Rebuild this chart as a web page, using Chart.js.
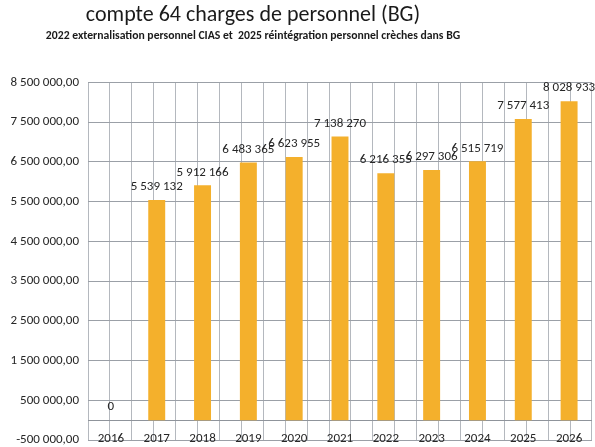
<!DOCTYPE html>
<html><head><meta charset="utf-8">
<script src="https://cdn.jsdelivr.net/npm/chart.js@4"></script>
<style>html,body{margin:0;padding:0;background:#fff;}#wrap{width:595px;height:447px;}</style>
</head><body><div id="wrap"><canvas id="c" width="595" height="447"></canvas></div>
<script>
const categories = ['2016','2017','2018','2019','2020','2021','2022','2023','2024','2025','2026'];
const values = [0, 5539132, 5912166, 6483365, 6623955, 7138270, 6216355, 6297306, 6515719, 7577413, 8028933];
const yTicks = [-500000, 500000, 1500000, 2500000, 3500000, 4500000, 5500000, 6500000, 7500000, 8500000];
const titleText = 'compte 64 charges de personnel (BG)';
const subtitleText = '2022 externalisation personnel CIAS et  2025 réintégration personnel crèches dans BG';

function fmt(v){ const s = String(Math.abs(Math.round(v))).replace(/\B(?=(\d{3})+(?!\d))/g,' '); return (v<0?'-':'')+s; }

const FONT = "'Carlito','Liberation Sans', sans-serif";

const labelPlugin = {
  id:'barLabels',
  afterDatasetsDraw(chart){
    const ctx = chart.ctx; const meta = chart.getDatasetMeta(0);
    ctx.save();
    ctx.font = "13px " + FONT; ctx.fillStyle = '#262626';
    ctx.textAlign = 'center'; ctx.textBaseline = 'middle';
    meta.data.forEach((bar,i)=>{ ctx.fillText(fmt(values[i]), bar.x, bar.y - 13); });
    ctx.restore();
  }
};
const layoutShift = {
  id:'layoutShift',
  afterLayout(chart){
    chart.boxes.forEach(b=>{ if(!(b instanceof Chart.Scale) && b.position==='top'){ b.right = b.left + 506; } });
    const x = chart.scales.x; x.top = 431; x.bottom = 447;
  }
};

new Chart(document.getElementById('c'), {
  type:'bar',
  data:{ labels:categories, datasets:[{ data:values, backgroundColor:'#F4B02C', borderWidth:0, barPercentage:0.37, categoryPercentage:1, xAxisID:'x', yAxisID:'y' }]},
  options:{
    responsive:false, animation:false,
    layout:{ autoPadding:false, padding:{ left:0, right:3, top:0, bottom:0 } },
    plugins:{
      legend:{display:false}, tooltip:{enabled:false},
      title:{ display:true, text:titleText, color:'#1a1a1a', font:{family:FONT, size:22, weight:'normal'}, padding:{top:2,bottom:0} },
      subtitle:{ display:true, text:subtitleText, color:'#1a1a1a', font:{family:FONT, size:11.7, weight:'bold'}, padding:{top:1,bottom:39} }
    },
    scales:{
      x:{ type:'category', position:'bottom', offset:true,
          grid:{display:false, drawTicks:false}, border:{display:false},
          ticks:{ color:'#262626', font:{family:FONT, size:13}, padding:0, maxRotation:0, autoSkip:false },
          afterFit(s){ s.height = 7; s.paddingLeft = 0; s.paddingRight = 0; } },
      x2:{ type:'linear', position:'bottom', min:-0.5, max:10.5,
          afterBuildTicks(s){ const t=[]; for(let i=0;i<=22;i++) t.push({value:-0.5+i*0.5}); s.ticks=t; },
          grid:{ color:'#b4b8be', lineWidth:1, drawTicks:false }, border:{display:false},
          ticks:{display:false}, afterFit(s){ s.height = 0; s.paddingLeft = 0; s.paddingRight = 0; } },
      y:{ type:'linear', position:'left', min:-500000, max:8500000,
          afterBuildTicks(s){ s.ticks = yTicks.map(v=>({value:v})); },
          grid:{ color:'#9ba0a7', lineWidth:1, drawTicks:false }, border:{display:false},
          ticks:{ color:'#262626', font:{family:FONT, size:13}, padding:9, callback:(v)=>fmt(v)+',00' },
          afterFit(s){ s.width = 88; s.paddingTop = 0; s.paddingBottom = 0; } },
      y0:{ type:'linear', position:'left', min:-500000, max:8500000,
          afterBuildTicks(s){ s.ticks = [{value:0}]; },
          grid:{ color:'#8f949b', lineWidth:1, drawTicks:false }, border:{display:false},
          ticks:{display:false}, afterFit(s){ s.width = 0; s.paddingTop = 0; s.paddingBottom = 0; } }
    }
  },
  plugins:[labelPlugin, layoutShift]
});
</script></body></html>
